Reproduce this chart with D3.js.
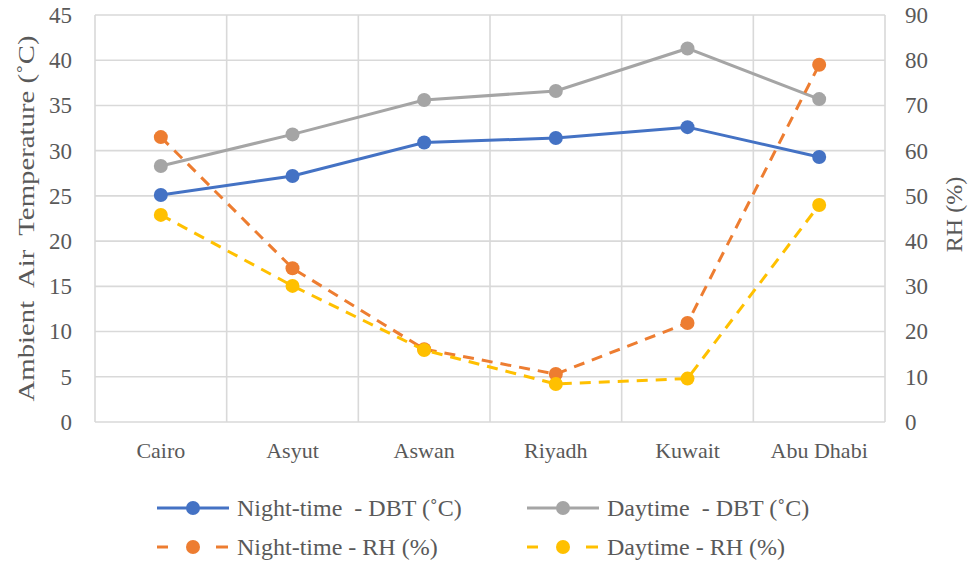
<!DOCTYPE html>
<html><head><meta charset="utf-8">
<script src="https://cdn.jsdelivr.net/npm/d3@7"></script>
<style>html,body{margin:0;padding:0;background:#fff;}svg{display:block;}</style>
</head><body>
<svg id="c" width="970" height="565"></svg>
<script>
const categories = ["Cairo","Asyut","Aswan","Riyadh","Kuwait","Abu Dhabi"];
const nightDBT = [25.1, 27.2, 30.9, 31.4, 32.6, 29.3];
const dayDBT   = [28.3, 31.8, 35.6, 36.6, 41.3, 35.7];
const nightRH  = [63.0, 34.0, 16.1, 10.6, 21.9, 79.0];
const dayRH    = [45.8, 30.1, 15.9, 8.4, 9.6, 48.0];
const leftTicks = [0,5,10,15,20,25,30,35,40,45];
const rightTicks = [0,10,20,30,40,50,60,70,80,90];
const seriesNames = ["Night-time  - DBT (\u02DAC)","Daytime  - DBT (\u02DAC)","Night-time - RH (%)","Daytime - RH (%)"];
const leftTitle = "Ambient  Air  Temperature (\u02DAC)";
const rightTitle = "RH (%)";

const svg = d3.select("#c");
const FF = "Liberation Serif";
const txt = "#595959";
const L = 95, R = 885, T = 15, B = 422;

const x = d3.scaleBand().domain(categories).range([L, R]).padding(0);
const cx = d => x(d) + x.bandwidth()/2;
const yL = d3.scaleLinear().domain([0,45]).range([B, T]);
const yR = d3.scaleLinear().domain([0,90]).range([B, T]);

// grid
const g = svg.append("g");
g.selectAll("line.h").data(leftTicks).join("line")
  .attr("x1", L).attr("x2", R).attr("y1", d=>yL(d)).attr("y2", d=>yL(d))
  .attr("stroke", "#d9d9d9").attr("stroke-width", 1.6);
const bounds = categories.map(c => x(c)).concat([R]);
g.selectAll("line.v").data(bounds).join("line")
  .attr("x1", d=>d).attr("x2", d=>d).attr("y1", T).attr("y2", B)
  .attr("stroke", "#d9d9d9").attr("stroke-width", 1.6);

// axes
const axL = d3.axisLeft(yL).tickValues(leftTicks).tickSize(0).tickPadding(23);
const gl = svg.append("g").attr("transform", `translate(${L},0)`).call(axL);
const axR = d3.axisRight(yR).tickValues(rightTicks).tickSize(0).tickPadding(20);
const gr = svg.append("g").attr("transform", `translate(${R},0)`).call(axR);
const axB = d3.axisBottom(x).tickSize(0).tickPadding(20);
const gb = svg.append("g").attr("transform", `translate(0,${B})`).call(axB);
[gl, gr].forEach(a => {
  a.select(".domain").remove();
  a.attr("font-family", FF).attr("font-size", 23);
  a.selectAll("text").style("font-family", FF).attr("fill", txt);
});
gb.select(".domain").remove();
gb.attr("font-family", FF).attr("font-size", 22);
gb.selectAll("text").style("font-family", FF).attr("fill", txt);

// titles
svg.append("text").attr("transform", `translate(34,${(T+B)/2}) rotate(-90)`)
  .attr("text-anchor","middle").style("font-family", FF).style("white-space","pre")
  .attr("font-size", 24).attr("fill", txt)
  .attr("textLength", 366).attr("lengthAdjust","spacingAndGlyphs")
  .text(leftTitle);
svg.append("text").attr("transform", `translate(962,${(T+B)/2 - 4}) rotate(-90)`)
  .attr("text-anchor","middle").style("font-family", FF).attr("font-size", 24).attr("fill", txt)
  .text(rightTitle);

// series
const series = [
  {vals: nightDBT, y: yL, color: "#4472C4", dash: null},
  {vals: dayDBT,   y: yL, color: "#A5A5A5", dash: null},
  {vals: nightRH,  y: yR, color: "#ED7D31", dash: "11,8"},
  {vals: dayRH,    y: yR, color: "#FFC000", dash: "11,8"}
];
series.forEach(s => {
  const pts = categories.map((c,i) => [cx(c), s.y(s.vals[i])]);
  svg.append("path").attr("d", d3.line()(pts)).attr("fill","none")
    .attr("stroke", s.color).attr("stroke-width", 3)
    .attr("stroke-dasharray", s.dash);
  svg.append("g").selectAll("circle").data(pts).join("circle")
    .attr("cx", d=>d[0]).attr("cy", d=>d[1]).attr("r", 7).attr("fill", s.color);
});

// legend
const legPos = [[157,508],[527,508],[157,547],[527,547]];
series.forEach((s,i) => {
  const [lx, ly] = legPos[i];
  const lg = svg.append("g");
  if (s.dash) {
    lg.append("line").attr("x1", lx).attr("x2", lx+11).attr("y1", ly).attr("y2", ly)
      .attr("stroke", s.color).attr("stroke-width", 3);
    lg.append("line").attr("x1", lx+59).attr("x2", lx+71).attr("y1", ly).attr("y2", ly)
      .attr("stroke", s.color).attr("stroke-width", 3);
  } else {
    lg.append("line").attr("x1", lx).attr("x2", lx+72).attr("y1", ly).attr("y2", ly)
      .attr("stroke", s.color).attr("stroke-width", 3);
  }
  lg.append("circle").attr("cx", lx+36).attr("cy", ly).attr("r", 7).attr("fill", s.color);
  lg.append("text").attr("x", lx+80).attr("y", ly).attr("dy","0.35em")
    .style("font-family", FF).style("white-space","pre")
    .attr("font-size", 24).attr("fill", txt).text(seriesNames[i]);
});
</script>
</body></html>
